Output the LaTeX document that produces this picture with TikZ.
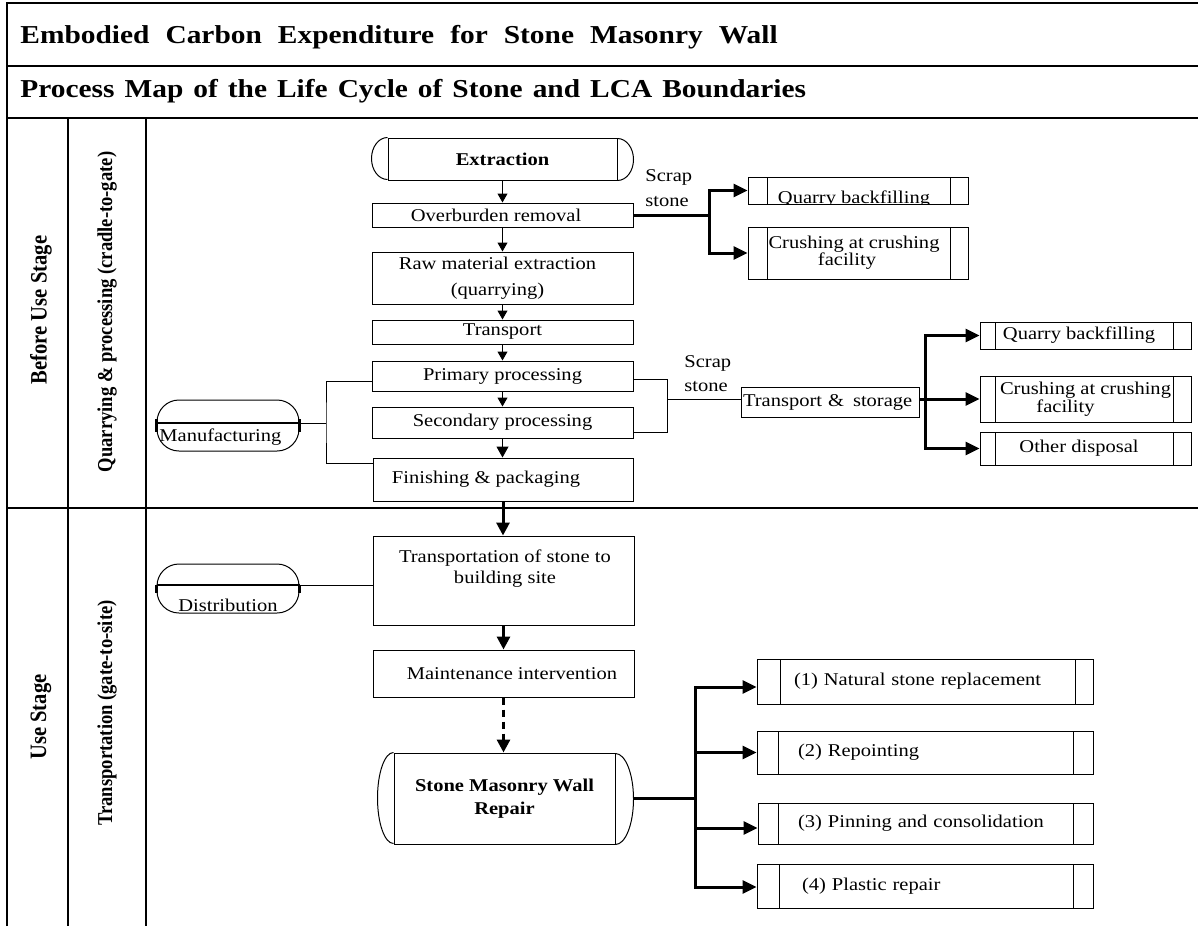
\documentclass[tikz,border=0pt]{standalone}
\usepackage{fontspec}
\usepackage{graphicx}
\setmainfont{Liberation Serif}[FakeStretch=1.14]
\newfontfamily\vfont{Liberation Serif}
\usetikzlibrary{arrows.meta}
\newcommand\mainsz{\fontsize{9pt}{12.2pt}\selectfont}
\newcommand\vstretch[1]{\scalebox{1}[1.14]{#1}}
\tikzset{
  bx/.style 2 args={draw, line width=0.5pt, inner sep=0pt, minimum width=#1, minimum height=#2, font=\mainsz, align=center},
  bxl/.style 2 args={draw, line width=0.5pt, inner sep=0pt, text width=#1, minimum height=#2, font=\mainsz, align=left},
  sub/.style 2 args={path picture={
      \draw[line width=0.5pt] ([xshift=#1]path picture bounding box.north west) -- ([xshift=#1]path picture bounding box.south west);
      \draw[line width=0.5pt] ([xshift=-#2]path picture bounding box.north east) -- ([xshift=-#2]path picture bounding box.south east);}},
  stad/.style 2 args={draw, line width=0.5pt, rounded corners=11pt, inner sep=0pt, minimum width=#1, minimum height=#2},
  txt/.style={inner sep=0pt, font=\mainsz, align=center},
  ttl/.style={anchor=base west, inner sep=0pt, font=\bfseries\fontsize{12.9pt}{15pt}\selectfont},
  vlab/.style={inner sep=0pt, rotate=90, font=\vfont\bfseries\fontsize{10.3pt}{12pt}\selectfont},
  vlabs/.style={inner sep=0pt, rotate=90, font=\vfont\bfseries\fontsize{9.3pt}{11pt}\selectfont},
  frame/.style={line width=0.7pt},
  thin/.style={line width=0.5pt},
  thk/.style={line width=1.5pt},
  tipS/.style={-{Triangle[length=4.5pt,width=5pt]}},
  tipM/.style={-{Triangle[length=5.5pt,width=6pt]}},
  tipL/.style={-{Triangle[length=6.5pt,width=6.5pt]}},
  tipR/.style={-{Triangle[length=7pt,width=6.5pt]}},
}
\begin{document}
\begin{tikzpicture}[x=0.5pt,y=-0.5pt]
\useasboundingbox (0,0) rectangle (1198,926);
% frame
\draw[frame] (7,926) -- (7,3) -- (1198,3);
\draw[frame] (7,66) -- (1198,66);
\draw[frame] (7,118) -- (1198,118);
\draw[frame] (7,508) -- (1198,508);
\draw[frame] (68,118) -- (68,926);
\draw[frame] (146,118) -- (146,926);
% titles
\node[ttl] (t1) at (20,43) {\spaceskip=8pt\relax Embodied Carbon Expenditure for Stone Masonry Wall};
\node[ttl] (t2) at (20,97) {\spaceskip=5pt\relax Process Map of the Life Cycle of Stone and LCA Boundaries};
% lane labels
\node[vlab] (bus) at (41,310) {\vstretch{Before Use Stage}};
\node[vlabs] (qp) at (107,312) {\vstretch{Quarrying \& processing (cradle-to-gate)}};
\node[vlab] (us) at (41,717) {\vstretch{Use Stage}};
\node[vlabs] (tg) at (107,713) {\vstretch{Transportation (gate-to-site)}};
% main column
\node[bx={114.5pt}{21pt}, font=\mainsz\bfseries] (ext) at (502.5,159) {Extraction};
\draw[thin] (ext.north west) arc[start angle=90, end angle=270, x radius=8pt, y radius=10.5pt];
\draw[thin] (ext.south east) arc[start angle=-90, end angle=90, x radius=8pt, y radius=10.5pt];
\node[bx={130.5pt}{12pt}] (ob) at (502.5,215) {Overburden removal\hspace*{6.5pt}};
\node[bx={130.5pt}{26pt}] (raw) at (502.5,278) {Raw material extraction\hspace*{5pt}\\[0.8pt](quarrying)\hspace*{5pt}};
\node[bx={130.5pt}{12pt}] (tr) at (502.5,332) {Transport};
\node[bx={130.5pt}{15pt}] (pp) at (502.5,376) {Primary processing};
\node[bx={130.5pt}{15.5pt}] (sp) at (502.5,422.5) {Secondary processing};
\node[bx={130pt}{21.5pt}] (fp) at (503,479.5) {Finishing \& packaging\hspace*{17pt}};
\node[bx={130.5pt}{44.5pt}] (tsb) at (503.5,580.5) {};
\node[txt] (tsbt) at (505,568.5) {Transportation of stone to\\[-1.7pt]building site};
\node[bx={130.5pt}{23.5pt}] (mi) at (503.5,673.5) {\hspace*{8.5pt}Maintenance intervention};
\node[bx={110.5pt}{45.5pt}, font=\mainsz\bfseries] (smwr) at (504.5,798.5) {Stone Masonry Wall\\[-0.7pt]Repair};
\draw[thin] (smwr.north west) arc[start angle=90, end angle=270, x radius=8pt, y radius=22.75pt];
\draw[thin] (smwr.south east) arc[start angle=-90, end angle=90, x radius=9pt, y radius=22.75pt];
% main arrows
\draw[thin, tipS] (ext) -- (ob);
\draw[thin, tipS] (ob) -- (raw);
\draw[thin, tipS] (raw) -- (tr);
\draw[thin, tipS] (tr) -- (pp);
\draw[thin, tipS] (pp) -- (sp);
\draw[thin, tipM] (sp.south) -- (sp.south |- fp.north);
\draw[thk, tipL] (fp.south) -- (fp.south |- tsb.north);
\draw[thk, tipL] (tsb) -- (mi);
\draw[thk, tipL, dash pattern=on 3.5pt off 2.5pt] (mi.south) -- (mi.south |- smwr.north);
% manufacturing
\node[stad={71pt}{25.5pt}] (mf) at (228,425.5) {};
\draw[line width=0.8pt] ([yshift=1.25pt]mf.west) -- ([yshift=1.25pt]mf.east);
\draw[line width=1.3pt] ([yshift=3.25pt]mf.west) -- ([yshift=-3.25pt]mf.west);
\draw[line width=1.3pt] ([yshift=3.25pt]mf.east) -- ([yshift=-3.25pt]mf.east);
\node[txt, anchor=west] (mft) at (159,437) {Manufacturing};
\coordinate (mj) at (326,423);
\draw[thin] ([yshift=1.25pt]mf.east) -- (mj);
\draw[thin] ([yshift=-2.5pt]pp.west) -| (mj) |- ([yshift=8.25pt]fp.west);
% distribution
\node[stad={71pt}{24.5pt}] (ds) at (228,588.5) {};
\draw[line width=0.8pt] ([yshift=1.75pt]ds.west) -- ([yshift=1.75pt]ds.east);
\draw[line width=1.3pt] ([yshift=1.75pt]ds.west) -- ([yshift=-2.25pt]ds.west);
\draw[line width=1.3pt] ([yshift=1.75pt]ds.east) -- ([yshift=-2.25pt]ds.east);
\node[txt] (dst) at (228,605) {Distribution};
\draw[thin] ([yshift=1.75pt]ds.east) -- ([yshift=-2.25pt]tsb.west);
% group 1
\node[bx={110pt}{13.5pt}, sub={9.5pt}{9pt}] (qb1) at (858,190.5) {};
\begin{scope}
\clip (qb1.north west) rectangle (qb1.south east);
\node[txt, anchor=base] (qb1t) at (854,203) {Quarry backfilling};
\end{scope}
\node[bx={110pt}{26pt}, sub={9.5pt}{9pt}] (cr1) at (858,253) {Crushing at crushing\hspace*{4pt}\\[-3.8pt]facility\hspace*{11pt}};
\node[txt, anchor=west, align=left] (sc1) at (645,188) {Scrap\\stone};
\coordinate (j1) at (709,215);
\draw[thk, tipR] (ob.east) -- (j1) |- (qb1.west);
\draw[thk, tipR] (ob.east) -- (j1) |- (cr1.west);
% group 2
\node[bxl={89pt}{15pt}] (ts) at (830,402) {\hspace*{1pt}Transport \&\hspace{1.5pt} storage};
\node[txt, anchor=west, align=left] (sc2) at (684,373.5) {Scrap\\stone};
\coordinate (bj) at (667,399);
\draw[thin] ([yshift=-1.5pt]pp.east) -| (bj) |- ([yshift=-4.75pt]sp.east);
\draw[thin] (bj) -- ([yshift=1.5pt]ts.west);
\node[bx={105.5pt}{13.5pt}, sub={7.5pt}{9pt}] (qb2) at (1085.5,335.5) {Quarry backfilling\hspace*{6.5pt}};
\node[bx={105.5pt}{23pt}, sub={7.5pt}{9pt}] (cr2) at (1085.5,399) {Crushing at crushing\\[-3.5pt]facility\hspace*{20pt}};
\node[bx={105.5pt}{16.5pt}, sub={7.5pt}{9pt}] (od) at (1085.5,448.5) {Other disposal\hspace*{6.5pt}};
\coordinate (j2) at (925,399);
\draw[thk, tipR] ([yshift=1.5pt]ts.east) -- (j2) |- (qb2.west);
\draw[thk, tipR] ([yshift=1.5pt]ts.east) -- (j2) -- (cr2.west);
\draw[thk, tipR] ([yshift=1.5pt]ts.east) -- (j2) |- (od.west);
% group 3
\node[bxl={168pt}{22.5pt}, sub={11.5pt}{9pt}] (nb1) at (925,681.5) {\hspace*{18.5pt}(1) Natural stone replacement};
\node[bxl={168pt}{21.5pt}, sub={10.5pt}{10pt}] (nb2) at (925,752.5) {\hspace*{20.5pt}(2) Repointing};
\node[bxl={167.5pt}{20.5pt}, sub={10pt}{10pt}] (nb3) at (925.5,823.5) {\hspace*{20pt}(3) Pinning and consolidation};
\node[bxl={168pt}{22pt}, sub={11pt}{10pt}] (nb4) at (925,886) {\hspace*{22.5pt}(4) Plastic repair};
\coordinate (j3) at (695,798.5);
\draw[thk, tipR] ([xshift=9pt]smwr.east) -- (j3) |- ([yshift=-2.75pt]nb1.west);
\draw[thk, tipR] ([xshift=9pt]smwr.east) -- (j3) |- (nb2.west);
\draw[thk, tipR] ([xshift=9pt]smwr.east) -- (j3) |- ([yshift=-2.25pt]nb3.west);
\draw[thk, tipR] ([xshift=9pt]smwr.east) -- (j3) |- ([yshift=-0.5pt]nb4.west);
\end{tikzpicture}
\end{document}
